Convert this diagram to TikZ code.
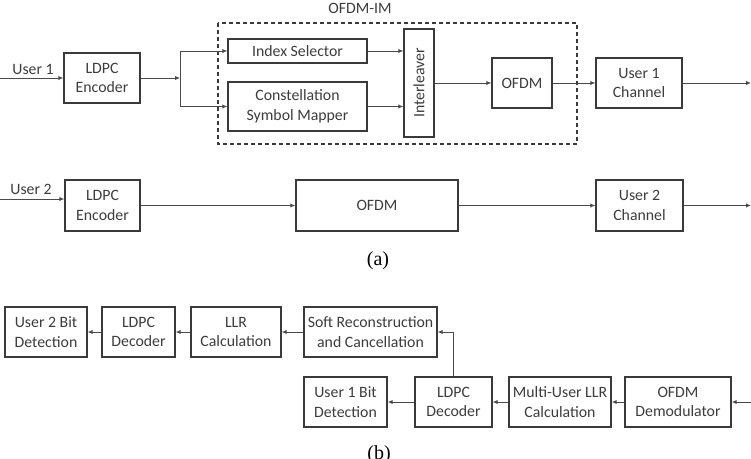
\documentclass[tikz,border=0pt]{standalone}
\usepackage{fontspec}
\setmainfont{Carlito}
\newfontfamily\capfont{Liberation Serif}
\usetikzlibrary{arrows.meta,calc}
\definecolor{boxline}{HTML}{3A3A3A}
\definecolor{wireline}{HTML}{4A4A4A}
\definecolor{txt}{HTML}{3C3C3C}
\tikzset{
  blk/.style={draw=boxline, line width=1.4pt, inner sep=0pt, align=center,
    text=txt, font=\fontsize{15.8}{19.5}\selectfont},
  wire/.style={draw=wireline, line width=1pt, -{Latex[length=5pt,width=4.5pt]}},
  plain/.style={draw=wireline, line width=1pt},
  lbl/.style={text=txt, font=\fontsize{15.8}{19.5}\selectfont, inner sep=0pt},
  captxt/.style={text=black, font=\capfont\fontsize{20}{24}\selectfont, inner sep=0pt}
}
\begin{document}
\begin{tikzpicture}[x=1pt,y=-1pt]
\useasboundingbox (0,0) rectangle (751,458);
% ---------- (a) top row ----------
\node[blk, minimum width=76pt, minimum height=50pt] (enc1) at (102,78) {LDPC\\Encoder};
\node[blk, minimum width=139pt, minimum height=24pt] (idx) at (297.5,51) {Index Selector};
\node[blk, minimum width=139pt, minimum height=49pt] (csm) at (297.5,106.5) {Constellation\\Symbol Mapper};
\node[blk, minimum width=108pt, minimum height=30pt, rotate=90] (intl) at (419,83) {Interleaver};
\node[blk, minimum width=60pt, minimum height=50pt] (ofdm1) at (522,83) {OFDM};
\node[blk, minimum width=86pt, minimum height=50pt] (ch1) at (639,83) {User 1\\Channel};
\draw[draw=boxline, line width=1.4pt, dash pattern=on 4pt off 3pt] (218,23) rectangle (577,144);
\node[lbl] (imlbl) at (360,8) {OFDM-IM};
\coordinate (in1) at (0,78);
\coordinate (br) at (180,78);
\coordinate (out1) at (751,83);
\node[lbl] (u1lbl) at (33,69) {User 1};
\draw[wire] (in1) -- (enc1.west);
\draw[wire] (enc1.east) -- (br);
\draw[plain] (idx.west -| br) -- (csm.west -| br);
\draw[wire] (idx.west -| br) -- (idx.west);
\draw[wire] (csm.west -| br) -- (csm.west);
\draw[wire] (idx.east) -- (idx.east -| intl.north);
\draw[wire] (csm.east) -- (csm.east -| intl.north);
\draw[wire] (intl.south) -- (ofdm1.west);
\draw[wire] (ofdm1.east) -- (ch1.west);
\draw[wire] (ch1.east) -- (out1);
% ---------- (a) second row ----------
\node[blk, minimum width=75pt, minimum height=51pt] (enc2) at (102.5,205.5) {LDPC\\Encoder};
\node[blk, minimum width=162pt, minimum height=51pt] (ofdm2) at (377,205.5) {OFDM};
\node[blk, minimum width=87pt, minimum height=51pt] (ch2) at (639.5,205.5) {User 2\\Channel};
\coordinate (in2) at (0,199);
\coordinate (out2) at (751,205.5);
\node[lbl] (u2lbl) at (31,189) {User 2};
\draw[wire] (in2) -- (in2 -| enc2.west);
\draw[wire] (enc2.east) -- (ofdm2.west);
\draw[wire] (ofdm2.east) -- (ch2.west);
\draw[wire] (ch2.east) -- (out2);
\node[captxt] (capa) at (378,261) {(a)};
% ---------- (b) ----------
\node[blk, minimum width=82pt, minimum height=50pt] (u2bit) at (46,332) {User 2 Bit\\Detection};
\node[blk, minimum width=73pt, minimum height=50pt] (dec2) at (138.5,332) {LDPC\\Decoder};
\node[blk, minimum width=90pt, minimum height=50pt] (llr) at (236,332) {LLR\\Calculation};
\node[blk, minimum width=133pt, minimum height=50pt] (soft) at (370.5,332) {Soft Reconstruction\\and Cancellation};
\node[blk, minimum width=83pt, minimum height=50pt] (u1bit) at (345.5,402) {User 1 Bit\\Detection};
\node[blk, minimum width=77pt, minimum height=50pt] (dec1) at (453.5,402) {LDPC\\Decoder};
\node[blk, minimum width=102pt, minimum height=50pt] (mullr) at (560,402) {Multi-User LLR\\Calculation};
\node[blk, minimum width=106pt, minimum height=50pt] (demod) at (678,402) {OFDM\\Demodulator};
\coordinate (in3) at (751,402);
\draw[wire] (in3) -- (demod.east);
\draw[wire] (demod.west) -- (mullr.east);
\draw[wire] (mullr.west) -- (dec1.east);
\draw[wire] (dec1.west) -- (u1bit.east);
\draw[wire] (dec1.north) |- (soft.east);
\draw[wire] (soft.west) -- (llr.east);
\draw[wire] (llr.west) -- (dec2.east);
\draw[wire] (dec2.west) -- (u2bit.east);
\node[captxt] (capb) at (379,455) {(b)};
\end{tikzpicture}
\end{document}
